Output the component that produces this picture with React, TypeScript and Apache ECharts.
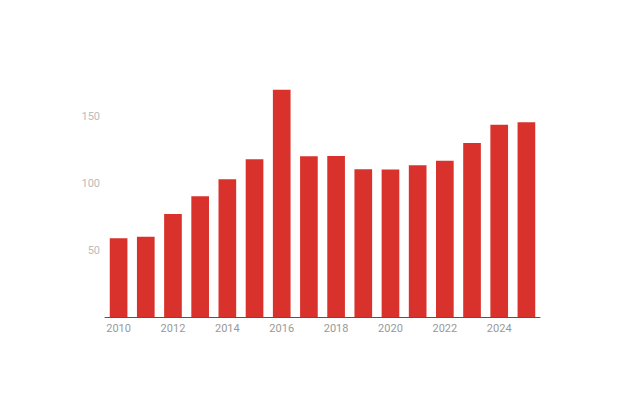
import React, { useEffect, useRef } from "react";
import * as echarts from "echarts";

const years = ["2010","2011","2012","2013","2014","2015","2016","2017","2018","2019","2020","2021","2022","2023","2024","2025"];
const values = [58.7, 59.9, 76.9, 90.1, 102.8, 117.7, 169.6, 119.9, 120.1, 110.2, 110.0, 113.2, 116.6, 129.9, 143.5, 145.3];

export default function App() {
  const ref = useRef<HTMLDivElement>(null);
  useEffect(() => {
    if (!ref.current) return;
    const chart = echarts.init(ref.current, undefined, { renderer: "svg" });
    chart.setOption({
      animation: false,
      grid: { left: 97, right: 76, top: 41, bottom: 91 },
      xAxis: {
        type: "category",
        data: years,
        axisLine: { show: true, lineStyle: { color: "#555", width: 1 } },
        axisTick: { show: false },
        axisLabel: {
          interval: 1,
          color: "#999",
          fontSize: 11,
          fontFamily: "Roboto",
          margin: 6,
        },
      },
      yAxis: {
        type: "value",
        min: 0,
        max: 200,
        interval: 50,
        splitLine: { show: false },
        axisLine: { show: false },
        axisTick: { show: false },
        axisLabel: {
          showMinLabel: false,
          showMaxLabel: false,
          color: "#bbb",
          fontSize: 11,
          fontFamily: "Roboto",
          margin: 5,
        },
      },
      series: [
        {
          type: "bar",
          data: values,
          barWidth: "65%",
          itemStyle: { color: "#d9322c" },
        },
      ],
    });
    return () => chart.dispose();
  }, []);
  return <div ref={ref} style={{ width: 608, height: 400 }} />;
}
